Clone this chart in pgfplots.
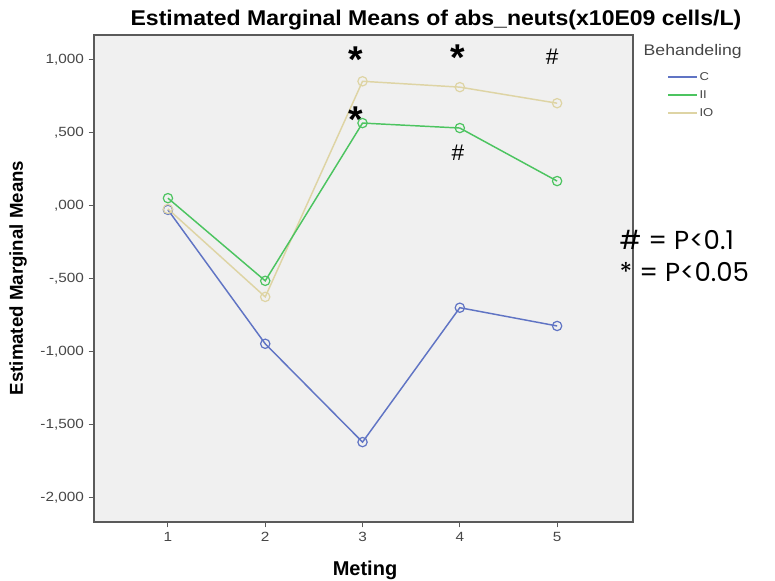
\documentclass[border=0pt]{standalone}
\usepackage{fontspec}
\setmainfont{Liberation Sans}
\newfontfamily\futfont{Poppins}
\usepackage{pgfplots}
\pgfplotsset{compat=1.18}
\definecolor{cC}{RGB}{96,116,196}
\definecolor{cII}{RGB}{76,196,96}
\definecolor{cIO}{RGB}{222,212,164}
\definecolor{bgc}{RGB}{240,240,240}
\definecolor{frm}{RGB}{90,90,90}
\definecolor{tkc}{RGB}{70,70,70}
\newcommand\hs[1]{\scalebox{1.15}[1]{#1}}
\begin{document}
\begin{tikzpicture}[x=0.75pt,y=0.75pt]
\useasboundingbox (0,0) rectangle (775,581);
\begin{axis}[
  at={(94pt*0.75,59pt*0.75)}, anchor=south west,
  scale only axis, width=539pt*0.75, height=487pt*0.75,
  xmin=0.24, xmax=5.78, ymin=-2.167, ymax=1.167,
  axis background/.style={fill=bgc},
  axis line style={frm, line width=1.2pt},
  xtick={1,2,3,4,5}, ytick={-2,-1.5,-1,-0.5,0,0.5,1},
  yticklabels={\hs{-2,000},\hs{-1,500},\hs{-1,000},\hs{-,500},\hs{,000},\hs{,500},\hs{1,000}},
  xticklabels={\hs{1},\hs{2},\hs{3},\hs{4},\hs{5}},
  tick align=outside, major tick length=4pt,
  tick style={frm, line width=0.8pt},
  axis x line*=bottom, axis y line*=left,
  ticklabel style={font=\fontsize{10}{12}\selectfont, text=tkc},
  /pgf/number format/assume math mode=true,
  clip=false,
]
\addplot+[cC, line width=1.1pt, mark=o, mark size=3.5pt, mark options={cC, line width=0.9pt}] coordinates {(1,-0.03) (2,-0.947) (3,-1.62) (4,-0.70) (5,-0.825)};
\addplot+[cIO, line width=1.1pt, mark=o, mark size=3.5pt, mark options={cIO, line width=0.9pt}] coordinates {(1,-0.024) (2,-0.626) (3,0.85) (4,0.81) (5,0.70)};
\addplot+[cII, line width=1.1pt, mark=o, mark size=3.5pt, mark options={cII, line width=0.9pt}] coordinates {(1,0.05) (2,-0.516) (3,0.564) (4,0.53) (5,0.167)};
\node[font=\fontsize{28}{28}\selectfont\bfseries] at (axis cs:2.93,1.0) {*};
\node[font=\fontsize{28}{28}\selectfont\bfseries] at (axis cs:2.93,0.59) {*};
\node[font=\fontsize{28}{28}\selectfont\bfseries] at (axis cs:3.98,1.015) {*};
\node[font=\fontsize{17}{17}\selectfont] at (axis cs:3.98,0.36) {\#};
\node[font=\fontsize{17}{17}\selectfont] at (axis cs:4.95,1.015) {\#};
\end{axis}
\draw[frm, line width=1.2pt] (94,59) rectangle (633,546);
% titles
\node[font=\fontsize{16}{18}\selectfont\bfseries] at (436,561) {\scalebox{1.08}[1]{Estimated Marginal Means of abs\_neuts(x10E09 cells/L)}};
\node[font=\fontsize{14}{16}\selectfont\bfseries, rotate=90] at (18,303) {Estimated Marginal Means};
\node[font=\fontsize{15}{17}\selectfont\bfseries] at (365,11) {Meting};
% legend
\node[font=\fontsize{11.5}{13}\selectfont, text=tkc, anchor=west] at (639,529) {\hs{Behandeling}};
\draw[cC, line width=1pt] (668,504) -- (697,504);
\draw[cII, line width=1pt] (668,486) -- (697,486);
\draw[cIO, line width=1pt] (668,468) -- (697,468);
\node[font=\fontsize{8.5}{10}\selectfont, text=tkc, anchor=west, inner sep=1pt] at (698,504) {\hs{C}};
\node[font=\fontsize{8.5}{10}\selectfont, text=tkc, anchor=west, inner sep=1pt] at (698,486) {\hs{II}};
\node[font=\fontsize{8.5}{10}\selectfont, text=tkc, anchor=west, inner sep=1pt] at (698,468) {\hs{IO}};
% significance key
\node[font=\futfont\fontsize{19.5}{22}\selectfont, anchor=west] at (615,341) {\# = P<0.1};
\node[font=\futfont\fontsize{19.5}{22}\selectfont, anchor=west] at (615,309) {* = P<0.05};
\end{tikzpicture}
\end{document}
